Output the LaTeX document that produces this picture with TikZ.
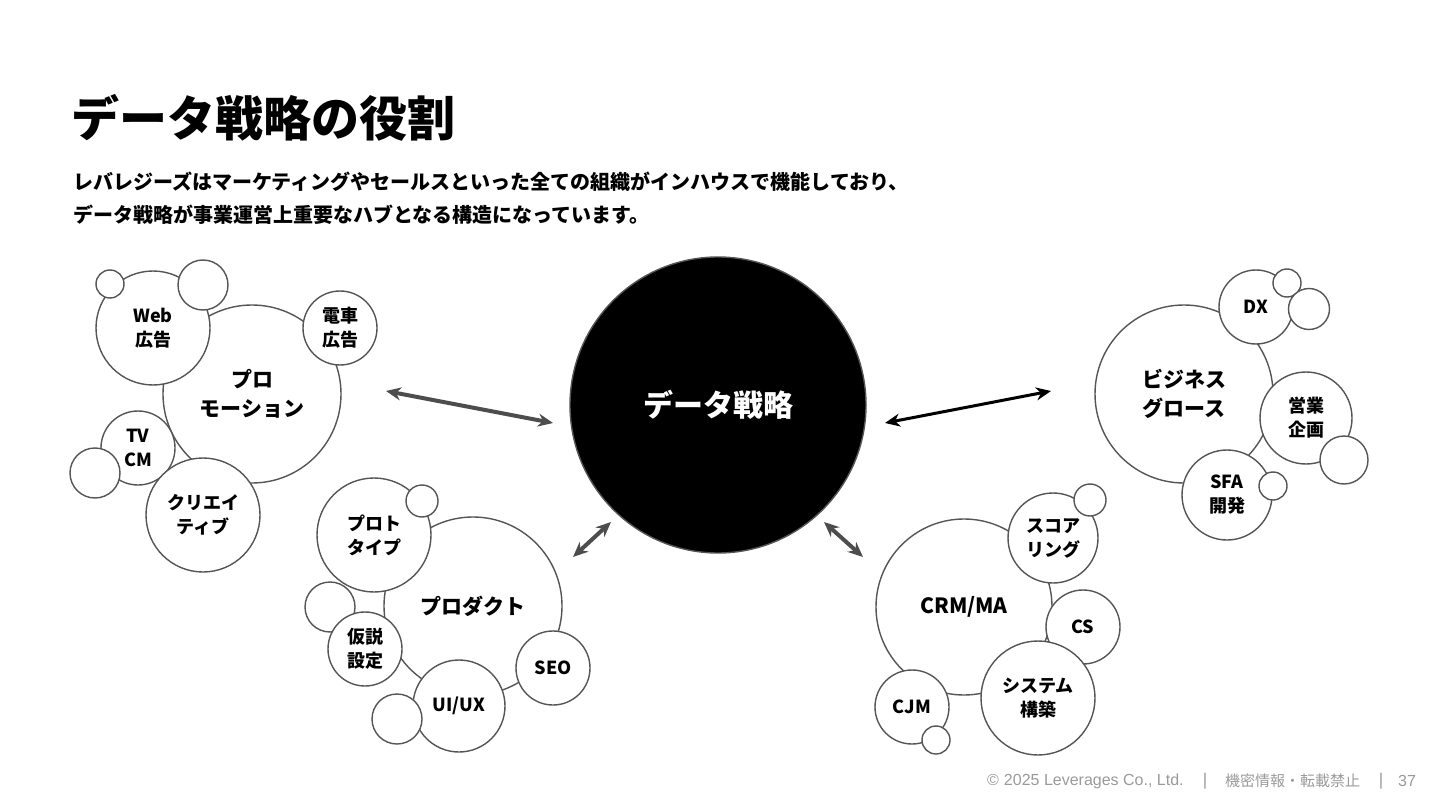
\documentclass[tikz,border=0pt]{standalone}
\usepackage{fontspec}
\setmainfont{Noto Sans CJK JP}
\newfontfamily\footfont{Liberation Sans}
\usetikzlibrary{arrows.meta,positioning}

\definecolor{linegray}{HTML}{555555}
\definecolor{arrowgray}{HTML}{4D4D4D}
\definecolor{footgray}{HTML}{9A9A9A}

\tikzset{
  bubble/.style={circle, draw=linegray, line width=1.4pt, fill=white, inner sep=0pt,
    minimum size=#1pt, align=center, font=\bfseries\fontsize{18}{24}\selectfont},
  bigbubble/.style={bubble=#1, font=\bfseries\fontsize{21}{29}\selectfont},
  dot/.style={bubble=#1},
  link/.style={<->, line width=4pt, arrowgray},
  foot/.style={anchor=west, inner sep=0pt, text=footgray, font=\fontsize{15}{15}\selectfont},
}

\begin{document}
\begin{tikzpicture}[x=1pt, y=-1pt, >={Stealth[length=15pt, width=13pt]}]
    \useasboundingbox (0,0) rectangle (1440,810);

    % headings
    \node[anchor=west, inner sep=0pt, font=\bfseries\fontsize{48}{48}\selectfont] (title) at (71,118) {データ戦略の役割};
    \node[anchor=west, inner sep=0pt, align=left, font=\bfseries\fontsize{20}{33}\selectfont] (lead) at (73,198)
        {レバレジーズはマーケティングやセールスといった全ての組織がインハウスで機能しており、\\
         データ戦略が事業運営上重要なハブとなる構造になっています。};

    % hub
    \node[circle, fill=black, draw=linegray, line width=1.4pt, minimum size=296pt, text=white,
          font=\bfseries\fontsize{30}{34}\selectfont] (data) at (718,405) {データ戦略};

    % promotion
    \node[bigbubble=178] (promo) at (252,394) {プロ\\モーション};
    \node[bubble=114] (webad) at (153,328) {Web\\広告};
    \node[bubble=74] (trainad) at (340,328) {電車\\広告};
    \node[bubble=74] (tvcm) at (138,448) {TV\\CM};
    \node[bubble=114] (creative) at (203,515) {クリエイ\\ティブ};
    \node[dot=28] (webdot1) at (110,284) {};
    \node[dot=50] (webdot2) at (203,285) {};
    \node[dot=50] (tvdot) at (95,473) {};

    % product
    \node[bigbubble=178] (product) at (473,606) {プロダクト};
    \node[bubble=114] (proto) at (374,535) {プロト\\タイプ};
    \node[dot=50] (hypodot) at (330,607) {};
    \node[bubble=74] (hypo) at (365,649) {仮説\\設定};
    \node[bubble=74] (seo) at (553,668) {SEO};
    \node[bubble=92] (uiux) at (459,706) {UI/UX};
    \node[dot=32] (protodot) at (422,501) {};
    \node[dot=50] (uidot) at (397,719) {};

    % crm
    \node[bigbubble=176] (crm) at (964,607) {CRM/MA};
    \node[bubble=90] (scoring) at (1053,538) {スコア\\リング};
    \node[bubble=74] (cs) at (1083,627) {CS};
    \node[bubble=114] (system) at (1038,698) {システム\\構築};
    \node[bubble=74] (cjm) at (912,707) {CJM};
    \node[dot=32] (scoredot) at (1090,500) {};
    \node[dot=28] (cjmdot) at (936,740) {};

    % business
    \node[bigbubble=178] (biz) at (1184,394) {ビジネス\\グロース};
    \node[bubble=74] (dx) at (1256,307) {DX};
    \node[bubble=92] (sales) at (1306,418) {営業\\企画};
    \node[bubble=90] (sfa) at (1227,495) {SFA\\開発};
    \node[dot=28] (dxdot1) at (1287,283) {};
    \node[dot=41] (dxdot2) at (1309,309) {};
    \node[dot=48] (salesdot) at (1344,460) {};
    \node[dot=28] (sfadot) at (1273,486) {};

    % arrows
    \coordinate (promoend) at (386,391);
    \coordinate (hubwest) at (553,423);
    \coordinate (hubeast) at (885,423);
    \coordinate (bizend) at (1051,391);
    \coordinate (hubsw) at (611,522);
    \coordinate (productend) at (573,557);
    \coordinate (hubse) at (824,522);
    \coordinate (crmend) at (863,557);

    \draw[link] (promoend) -- (hubwest);
    \draw[link, black, line width=3pt] (hubeast) -- (bizend);
    \draw[link] (hubsw) -- (productend);
    \draw[link] (hubse) -- (crmend);

    % footer
    \node[foot] (copy) at (987,781) {\footfont\fontsize{16}{16}\selectfont ©\hspace{5pt}2025 Leverages Co., Ltd.};
    \node[foot, anchor=center] (bar1) at (1205,781) {\footfont\fontsize{17}{17}\selectfont |};
    \node[foot] (secret) at (1225,781) {機密情報・転載禁止};
    \node[foot, anchor=center] (bar2) at (1381,781) {\footfont\fontsize{17}{17}\selectfont |};
    \node[foot] (page) at (1398,781) {\footfont\fontsize{16}{16}\selectfont 37};
\end{tikzpicture}
\end{document}
